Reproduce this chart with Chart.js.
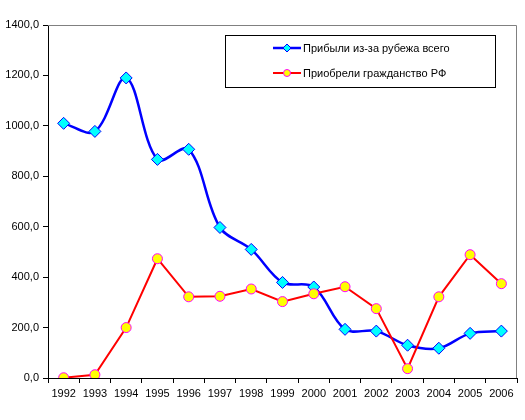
<!DOCTYPE html>
<html>
<head>
<meta charset="utf-8">
<script src="https://cdn.jsdelivr.net/npm/chart.js@4/dist/chart.umd.min.js"></script>
<style>
  html, body { margin: 0; padding: 0; background: #fff; }
  #wrap { position: relative; width: 525px; height: 420px; }
  #legend {
    position: absolute; left: 225px; top: 35px; width: 269px; height: 51px;
    border: 1px solid #000; background: #fff;
    font: 11px "Liberation Sans", Arial, sans-serif; color: #000;
  }
  .item { position: absolute; left: 47px; height: 12px; display: flex; align-items: center; }
  .item canvas { margin-right: 2px; }
</style>
</head>
<body>
<div id="wrap">
  <canvas id="chart" width="525" height="420"></canvas>
  <div id="legend">
    <div class="item" style="top:6px"><canvas id="lg0" width="28" height="12"></canvas>Прибыли из-за рубежа всего</div>
    <div class="item" style="top:31px"><canvas id="lg1" width="28" height="12"></canvas>Приобрели гражданство РФ</div>
  </div>
</div>
<script>
"use strict";

const years = ["1992", "1993", "1994", "1995", "1996", "1997", "1998", "1999",
  "2000", "2001", "2002", "2003", "2004", "2005", "2006"];
const arrivedTotal = [1010, 978, 1190, 867, 907, 597, 510, 379, 361, 193, 186, 130, 118, 177, 186];
const gotCitizenship = [1, 13, 200, 473, 322, 324, 353, 303, 334, 362, 275, 37, 322, 489, 374];
const seriesNames = ["Прибыли из-за рубежа всего", "Приобрели гражданство РФ"];

const FONT = { family: "'Liberation Sans', Arial, sans-serif", size: 11 };

// gray frame on top/right of plot area, like Excel
const plotFrame = {
  id: "plotFrame",
  beforeDatasetsDraw(chart) {
    const { ctx, chartArea: a } = chart;
    ctx.save();
    ctx.strokeStyle = "#808080";
    ctx.lineWidth = 1;
    ctx.beginPath();
    ctx.moveTo(a.left, a.top + 0.5);
    ctx.lineTo(a.right - 0.5, a.top + 0.5);
    ctx.lineTo(a.right - 0.5, a.bottom);
    ctx.stroke();
    ctx.restore();
  },
};

new Chart(document.getElementById("chart"), {
  type: "line",
  data: {
    labels: years,
    datasets: [
      {
        label: seriesNames[0], data: arrivedTotal, order: 1,
        borderColor: "#0000ff", borderWidth: 2.5, tension: 0.35,
        pointStyle: "rectRot", pointRadius: 6, pointBorderWidth: 1,
        pointBackgroundColor: "#00ffff", pointBorderColor: "#0000ff",
      },
      {
        label: seriesNames[1], data: gotCitizenship, order: 0,
        borderColor: "#ff0000", borderWidth: 2, tension: 0,
        pointStyle: "circle", pointRadius: 5, pointBorderWidth: 1,
        pointBackgroundColor: "#ffff00", pointBorderColor: "#ff00ff",
      },
    ],
  },
  options: {
    responsive: false, animation: false,
    layout: { padding: { top: 25, right: 8, left: 0, bottom: 0 } },
    plugins: { legend: { display: false }, tooltip: { enabled: false } },
    scales: {
      x: {
        offset: true,
        grid: { offset: true, drawOnChartArea: false, tickLength: 5, color: "#000" },
        border: { color: "#000", width: 1 },
        ticks: { color: "#000", font: FONT, padding: 4, maxRotation: 0, autoSkip: false },
        afterFit: (s) => { s.height = 42; },
      },
      y: {
        min: 0, max: 1400,
        grid: { drawOnChartArea: false, tickLength: 5, color: "#000" },
        border: { color: "#000", width: 1 },
        ticks: {
          stepSize: 200, color: "#000", font: FONT, padding: 4,
          callback: (v) => v.toFixed(1).replace(".", ","),
        },
        afterFit: (s) => { s.width = 48; },
      },
    },
  },
  plugins: [plotFrame],
});

// legend samples
function sample(id, color, width, drawMarker) {
  const c = document.getElementById(id).getContext("2d");
  c.strokeStyle = color; c.lineWidth = width;
  c.beginPath(); c.moveTo(0, 6); c.lineTo(28, 6); c.stroke();
  drawMarker(c);
}
sample("lg0", "#0000ff", 2.5, (c) => {
  c.fillStyle = "#00ffff"; c.strokeStyle = "#0000ff"; c.lineWidth = 1;
  c.beginPath(); c.moveTo(14, 2); c.lineTo(18, 6); c.lineTo(14, 10); c.lineTo(10, 6); c.closePath();
  c.fill(); c.stroke();
});
sample("lg1", "#ff0000", 2, (c) => {
  c.fillStyle = "#ffff00"; c.strokeStyle = "#ff00ff"; c.lineWidth = 1;
  c.beginPath(); c.arc(14, 6, 3.5, 0, Math.PI * 2); c.fill(); c.stroke();
});
</script>
</body>
</html>
